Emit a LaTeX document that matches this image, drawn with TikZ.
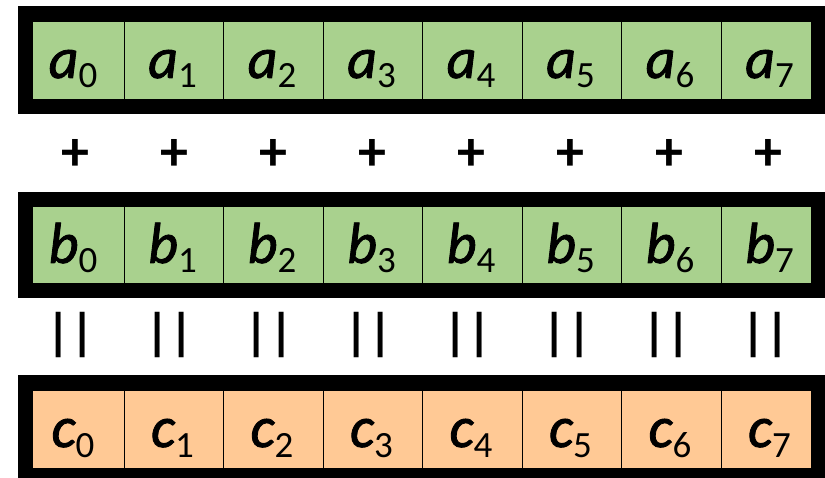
\documentclass[tikz,border=0pt]{standalone}
\usepackage{fontspec}
\setmainfont{Carlito}
\newfontfamily\lblfam{Carlito}[FakeBold=1.5]
\definecolor{cellgreen}{HTML}{A9D18E}
\definecolor{cellorange}{HTML}{FFC995}
\newcommand{\vlab}[2]{{\fontsize{58}{60}\selectfont\lblfam\itshape #1}\raisebox{-10pt}{\fontsize{37}{40}\selectfont #2}}
\begin{document}
\begin{tikzpicture}[x=1pt,y=-1pt,
  cellbox/.style={minimum width=99.5pt,minimum height=78pt,inner sep=0pt,draw=black,line width=0.9pt},
  frame/.style={draw=black,line width=15pt},
  vtext/.style={anchor=base,inner sep=0pt},
  optext/.style={inner sep=0pt,font=\fontsize{56}{58}\selectfont\bfseries},
  eqtext/.style={inner sep=0pt,font=\fontsize{51}{53}\selectfont\bfseries}]
\useasboundingbox (0,0) rectangle (825,478);
% rows
\foreach \r/\yc/\col in {a/60/cellgreen,b/245/cellgreen,c/429/cellorange}{
  \foreach \k in {0,...,7}{
    \node[cellbox,fill=\col] (\r\k) at ({74.5+99.5*\k},\yc) {};
    \node[vtext] (l\r\k) at ({73+99.5*\k},\yc+18) {\vlab{\r}{\k}};
  }
}
\draw[frame] (25.5,13.5) rectangle (818.5,106.5);
\draw[frame] (25.5,199.5) rectangle (818.5,290.5);
\draw[frame] (25.5,382.5) rectangle (818.5,475);
% operators
\foreach \k in {0,...,7}{
  \node[optext] (p\k) at ({75.5+99*\k},155) {+};
  \node[eqtext] (e\k) at ({70.5+99.3*\k},335) {||};
}
\end{tikzpicture}
\end{document}
